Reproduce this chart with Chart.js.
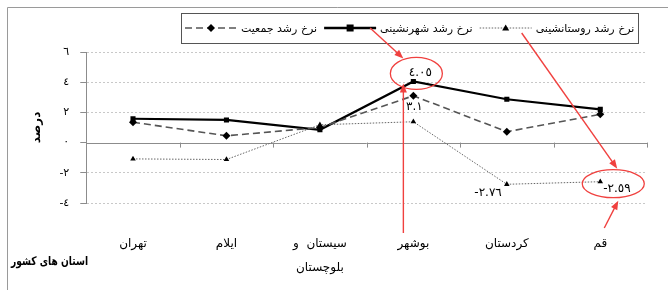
<!DOCTYPE html>
<html>
<head>
<meta charset="utf-8">
<script src="https://cdn.jsdelivr.net/npm/chart.js@4/dist/chart.umd.min.js"></script>
<style>
html,body{margin:0;padding:0;background:#fff}
#wrap{width:668px;height:290px}
</style>
</head>
<body>
<div id="wrap"><canvas id="myChart"></canvas></div>
<script>
const provinces=['تهران','ایلام',['سیستان  و','بلوچستان'],'بوشهر','کردستان','قم'];
const seriesNames=['نرخ رشد جمعیت','نرخ رشد شهرنشینی','نرخ رشد روستانشینی'];
const popGrowth=[1.35,0.45,1.0,3.1,0.72,1.87];
const urbanGrowth=[1.58,1.5,0.85,4.05,2.87,2.2];
const ruralGrowth=[-1.08,-1.12,1.18,1.38,-2.76,-2.59];
const yTicks=[-4,-2,0,2,4,6];
const xTitle='استان های کشور';
const yTitle='درصد';

const FONT='"DejaVu Sans", sans-serif';
const RED='#f0413f';
const faNum=v=>String(v).replace(/\d/g,d=>'٠١٢٣٤٥٦٧٨٩'[d]);

// legend items: line style + marker of each series
const legendItems=[
  {text:seriesNames[0],dash:[7,4],width:1.6,color:'#555',pt:'diamond'},
  {text:seriesNames[1],dash:[],width:2.4,color:'#000',pt:'square'},
  {text:seriesNames[2],dash:[1.5,1.5],width:1,color:'#666',pt:'tri'}
];

const drawMarker=(ctx,type,x,y)=>{
  ctx.save();
  ctx.fillStyle='#000';
  ctx.beginPath();
  if(type==='diamond'){ctx.moveTo(x,y-4);ctx.lineTo(x+4,y);ctx.lineTo(x,y+4);ctx.lineTo(x-4,y);}
  else if(type==='square'){ctx.rect(x-3.5,y-3.5,7,7);}
  else {ctx.moveTo(x,y-3.5);ctx.lineTo(x+3.5,y+2.5);ctx.lineTo(x-3.5,y+2.5);}
  ctx.closePath();ctx.fill();ctx.restore();
};

const arrow=(ctx,x1,y1,x2,y2)=>{
  const a=Math.atan2(y2-y1,x2-x1),L=9,W=3.5;
  ctx.save();
  ctx.strokeStyle=RED;ctx.fillStyle=RED;ctx.lineWidth=1.4;
  ctx.beginPath();ctx.moveTo(x1,y1);ctx.lineTo(x2-Math.cos(a)*L*0.8,y2-Math.sin(a)*L*0.8);ctx.stroke();
  ctx.beginPath();
  ctx.moveTo(x2,y2);
  ctx.lineTo(x2-Math.cos(a)*L+Math.sin(a)*W,y2-Math.sin(a)*L-Math.cos(a)*W);
  ctx.lineTo(x2-Math.cos(a)*L-Math.sin(a)*W,y2-Math.sin(a)*L+Math.cos(a)*W);
  ctx.closePath();ctx.fill();
  ctx.restore();
};

const ellipse=(ctx,cx,cy,rx,ry)=>{
  ctx.save();ctx.strokeStyle=RED;ctx.lineWidth=1.3;
  ctx.beginPath();ctx.ellipse(cx,cy,rx,ry,0,0,Math.PI*2);ctx.stroke();ctx.restore();
};

const extras={
  id:'extras',
  beforeDraw(chart){
    const ctx=chart.ctx;
    ctx.save();
    ctx.strokeStyle='#9a9a9a';ctx.lineWidth=1;
    ctx.beginPath();ctx.moveTo(7.5,chart.height);ctx.lineTo(7.5,7.5);ctx.lineTo(chart.width,7.5);ctx.stroke();
    ctx.restore();
  },
  beforeDatasetsDraw(chart){
    const {ctx,chartArea:a,scales:{x,y}}=chart;
    const y0=y.getPixelForValue(0);
    ctx.save();
    ctx.strokeStyle='#8c8c8c';ctx.lineWidth=1;
    ctx.beginPath();ctx.moveTo(a.left,Math.round(y0)+0.5);ctx.lineTo(a.right,Math.round(y0)+0.5);
    for(let i=0;i<=provinces.length;i++){
      const px=Math.round(x.getPixelForValue(i-0.5))+0.5;
      ctx.moveTo(px,y0);ctx.lineTo(px,y0+5);
    }
    ctx.stroke();
    ctx.restore();
  },
  afterDraw(chart){
    const {ctx,scales:{y}}=chart;
    // legend
    ctx.save();
    ctx.font='11px '+FONT;
    ctx.textBaseline='middle';
    const mw=52,gap=4,sep=7,ly=28;
    let total=0;
    legendItems.forEach(it=>{it.tw=ctx.measureText(it.text).width;total+=mw+gap+it.tw;});
    total+=sep*(legendItems.length-1);
    const bx=Math.round(410-total/2-4),bw=Math.round(total+8);
    ctx.strokeStyle='#555';ctx.lineWidth=1;
    ctx.strokeRect(bx+0.5,13.5,bw,30);
    let cx=bx+4;
    legendItems.forEach(it=>{
      ctx.save();
      ctx.strokeStyle=it.color;ctx.lineWidth=it.width;ctx.setLineDash(it.dash);
      ctx.beginPath();ctx.moveTo(cx,ly);ctx.lineTo(cx+mw,ly);ctx.stroke();
      ctx.restore();
      drawMarker(ctx,it.pt,cx+mw/2,ly);
      it.end=cx+mw;
      ctx.fillStyle='#000';ctx.textAlign='left';
      ctx.fillText(it.text,cx+mw+gap,ly+1);
      cx+=mw+gap+it.tw+sep;
    });
    ctx.restore();

    // axis title at lower left, squeezed sideways to fit inside the frame
    ctx.save();
    ctx.font='bold 12px '+FONT;
    const tw=ctx.measureText(xTitle).width;
    ctx.translate(88,262);
    ctx.scale(Math.min(1,77/tw),1);
    ctx.fillStyle='#000';ctx.textAlign='right';ctx.textBaseline='middle';
    ctx.fillText(xTitle,0,0);
    ctx.restore();

    // value labels
    const pt=(ds,i)=>chart.getDatasetMeta(ds).data[i];
    const pU=pt(1,3),pP=pt(0,3),pK=pt(2,4),pQ=pt(2,5);
    ctx.save();
    ctx.font='12px '+FONT;ctx.fillStyle='#000';ctx.textBaseline='middle';
    ctx.textAlign='center';
    ctx.fillText(faNum(urbanGrowth[3]),pU.x+7,pU.y-9);
    ctx.fillText(faNum(popGrowth[3]),pP.x+1,pP.y+11);
    ctx.textAlign='right';
    ctx.fillText(faNum(ruralGrowth[4]),pK.x-5,pK.y+9);
    ctx.textAlign='left';
    ctx.fillText(faNum(ruralGrowth[5]),pQ.x+3,pQ.y+7);
    ctx.restore();

    // red highlights
    const e1={x:pU.x+3,y:pU.y-8},e2={x:pQ.x+13,y:pQ.y+2};
    ellipse(ctx,e1.x,e1.y,26,16);
    ellipse(ctx,e2.x,e2.y,31,14);
    arrow(ctx,legendItems[1].end-6,ly+0,e1.x-13,e1.y-15);
    arrow(ctx,legendItems[2].end-10,ly+5,e2.x+4,e2.y-15);
    arrow(ctx,pU.x-10,233,pU.x-10,pU.y+2);
    arrow(ctx,e2.x-9,228,e2.x+5,e2.y+17);
  }
};

new Chart(document.getElementById('myChart'),{
  type:'line',
  data:{
    labels:provinces,
    datasets:[
      {label:seriesNames[0],data:popGrowth,borderColor:'#555',borderWidth:1.6,borderDash:[7,4],
       pointStyle:'rectRot',pointRadius:4,pointBackgroundColor:'#000',pointBorderColor:'#000',pointBorderWidth:0},
      {label:seriesNames[1],data:urbanGrowth,borderColor:'#000',borderWidth:2.2,
       pointStyle:'rect',pointRadius:3.6,pointBackgroundColor:'#000',pointBorderColor:'#000',pointBorderWidth:0},
      {label:seriesNames[2],data:ruralGrowth,borderColor:'#666',borderWidth:1,borderDash:[1.5,1.5],
       pointStyle:'triangle',pointRadius:3.2,pointBackgroundColor:'#000',pointBorderColor:'#000',pointBorderWidth:0}
    ]
  },
  options:{
    responsive:true,
    maintainAspectRatio:false,
    animation:false,
    layout:{padding:{top:52,right:21,left:30,bottom:0}},
    plugins:{legend:{display:false},tooltip:{enabled:false}},
    scales:{
      x:{
        offset:true,
        grid:{display:false,drawTicks:false},
        border:{display:false},
        afterFit:s=>{s.height=87;},
        ticks:{padding:29,color:'#000',font:{family:FONT,size:12,lineHeight:2},maxRotation:0,autoSkip:false}
      },
      y:{
        min:yTicks[0],max:yTicks[yTicks.length-1],
        afterBuildTicks:s=>{s.ticks=yTicks.map(v=>({value:v}));},
        grid:{color:c=>c.tick&&c.tick.value===0?'rgba(0,0,0,0)':'#c8c8c8',tickColor:'#8c8c8c',tickLength:6,lineWidth:1},
        border:{display:true,color:'#8c8c8c',dash:[2,2]},
        ticks:{padding:11,color:'#000',font:{family:FONT,size:11},callback:v=>faNum(v)},
        title:{display:true,text:yTitle,color:'#000',font:{family:FONT,size:12,weight:'bold'},padding:{top:0,bottom:4}}
      }
    }
  },
  plugins:[extras]
});
</script>
</body>
</html>
